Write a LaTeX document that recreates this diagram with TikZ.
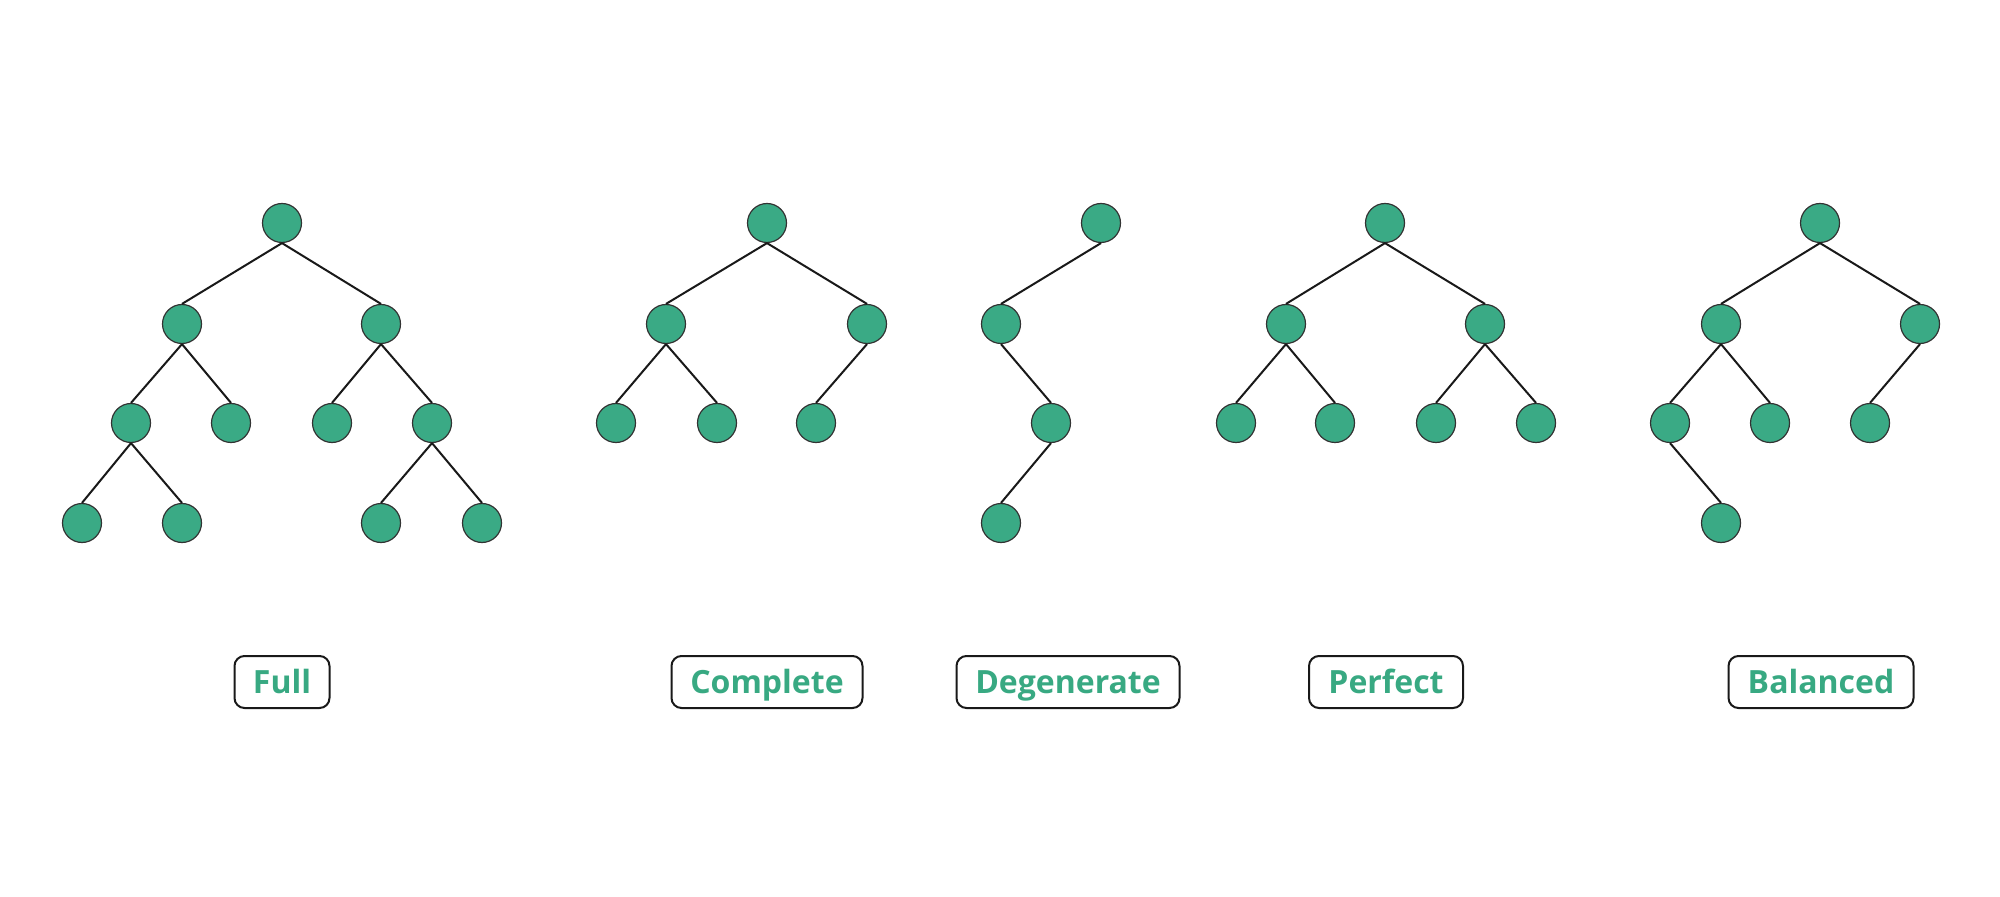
\documentclass[tikz,border=0pt]{standalone}
\usepackage{fontspec}
\setmainfont{Open Sans}
\definecolor{nodegreen}{HTML}{3AAA85}
\definecolor{nodeedge}{HTML}{333333}
\definecolor{labgreen}{HTML}{38A982}
\begin{document}
\begin{tikzpicture}[x=0.5pt,y=-0.5pt,
  tn/.style={circle,fill=nodegreen,draw=nodeedge,line width=0.6pt,minimum size=19.5pt,inner sep=0pt},
  ed/.style={line width=1pt,black!90},
  lab/.style={draw=black!90,line width=1pt,rounded corners=5pt,text=labgreen,font=\bfseries\fontsize{16}{18}\selectfont,minimum height=26pt,inner sep=0pt,text height=11.5pt,text depth=0.1pt}]
\useasboundingbox (0,0) rectangle (2000,897);
% Full
\node[tn] (f1) at (282,223) {};
\node[tn] (f2) at (182,324) {};
\node[tn] (f3) at (381,324) {};
\node[tn] (f4) at (131,423) {};
\node[tn] (f5) at (231,423) {};
\node[tn] (f6) at (332,423) {};
\node[tn] (f7) at (432,423) {};
\node[tn] (f8) at (82,523) {};
\node[tn] (f9) at (182,523) {};
\node[tn] (f10) at (381,523) {};
\node[tn] (f11) at (482,523) {};
\foreach \a/\b in {f1/f2,f1/f3,f2/f4,f2/f5,f3/f6,f3/f7,f4/f8,f4/f9,f7/f10,f7/f11}
  \draw[ed] (\a.south) -- (\b.north);
% Complete
\node[tn] (c1) at (767,223) {};
\node[tn] (c2) at (666,324) {};
\node[tn] (c3) at (867,324) {};
\node[tn] (c4) at (616,423) {};
\node[tn] (c5) at (717,423) {};
\node[tn] (c6) at (816,423) {};
\foreach \a/\b in {c1/c2,c1/c3,c2/c4,c2/c5,c3/c6}
  \draw[ed] (\a.south) -- (\b.north);
% Degenerate
\node[tn] (d1) at (1101,223) {};
\node[tn] (d2) at (1001,324) {};
\node[tn] (d3) at (1051,423) {};
\node[tn] (d4) at (1001,523) {};
\foreach \a/\b in {d1/d2,d2/d3,d3/d4}
  \draw[ed] (\a.south) -- (\b.north);
% Perfect
\node[tn] (p1) at (1385,223) {};
\node[tn] (p2) at (1286,324) {};
\node[tn] (p3) at (1485,324) {};
\node[tn] (p4) at (1236,423) {};
\node[tn] (p5) at (1335,423) {};
\node[tn] (p6) at (1436,423) {};
\node[tn] (p7) at (1536,423) {};
\foreach \a/\b in {p1/p2,p1/p3,p2/p4,p2/p5,p3/p6,p3/p7}
  \draw[ed] (\a.south) -- (\b.north);
% Balanced
\node[tn] (b1) at (1820,223) {};
\node[tn] (b2) at (1721,324) {};
\node[tn] (b3) at (1920,324) {};
\node[tn] (b4) at (1670,423) {};
\node[tn] (b5) at (1770,423) {};
\node[tn] (b6) at (1870,423) {};
\node[tn] (b7) at (1721,523) {};
\foreach \a/\b in {b1/b2,b1/b3,b2/b4,b2/b5,b3/b6,b4/b7}
  \draw[ed] (\a.south) -- (\b.north);
% Labels
\node[lab,minimum width=47.5pt] (lf) at (282,682) {Full};
\node[lab,minimum width=95.5pt] (lc) at (767,682) {Complete};
\node[lab,minimum width=111.5pt] (ld) at (1068,682) {Degenerate};
\node[lab,minimum width=77pt] (lp) at (1386,682) {Perfect};
\node[lab,minimum width=92.5pt] (lb) at (1821,682) {Balanced};
\end{tikzpicture}
\end{document}
